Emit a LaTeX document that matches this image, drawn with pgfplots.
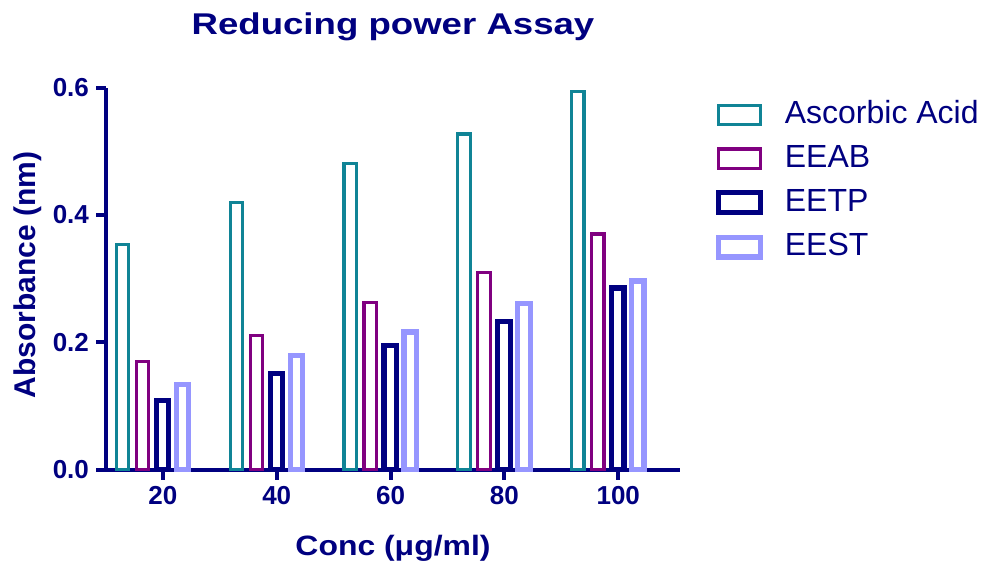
\documentclass[border=0pt]{standalone}
\usepackage{fontspec}
\setmainfont{Liberation Sans}
\usepackage{graphicx}
\usepackage{pgfplots}
\pgfplotsset{compat=1.18}
\definecolor{asccol}{RGB}{16,132,150}
\definecolor{eeabcol}{RGB}{128,0,128}
\definecolor{eetpcol}{RGB}{0,0,128}
\definecolor{eestcol}{RGB}{150,150,255}
\definecolor{navytext}{RGB}{0,0,128}

\begin{document}
\begin{tikzpicture}
\useasboundingbox (0,0) rectangle (491.5pt,282pt);
\begin{axis}[
    at={(53pt,47.25pt)}, anchor=south west,
    scale only axis, width=287pt, height=191pt,
    xmin=10, xmax=110.85, ymin=0, ymax=0.6,
    ybar, bar width=6.2pt, clip=false,
    axis x line*=bottom, axis y line*=left,
    axis line style={-, line width=2pt, navytext},
    tick align=outside, major tick length=5pt,
    major tick style={line width=2pt, navytext},
    xtick={20,40,60,80,100}, ytick={0,0.2,0.4,0.6},
    /pgf/number format/assume math mode=true,
    tick label style={font=\fontsize{13}{15}\selectfont\bfseries, text=navytext},
    y tick label style={/pgf/number format/fixed, /pgf/number format/fixed zerofill,
        /pgf/number format/precision=1},
    title={\scalebox{1.22}[1]{Reducing power Assay}},
    title style={at={(axis description cs:0.5,1.1076)}, anchor=base, yshift=0pt,
        font=\fontsize{15}{18}\selectfont\bfseries, text=navytext},
    xlabel={\scalebox{1.14}[1]{Conc (μg/ml)}},
    xlabel style={at={(axis description cs:0.5,-0.2238)}, anchor=base,
        font=\fontsize{14}{17}\selectfont\bfseries, text=navytext},
    ylabel={Absorbance (nm)},
    ylabel style={at={(axis description cs:-0.1235,0.509)}, anchor=base,
        font=\fontsize{15}{18}\selectfont\bfseries, text=navytext},
    legend image code/.code={\draw[#1] (0pt,-6.35pt) rectangle (21pt,3.45pt);},
    legend cell align=left,
    legend style={draw=none, fill=none, at={(axis description cs:1.0624,0.9666)},
        anchor=north west, inner sep=0pt, row sep=8.95pt,
        font=\fontsize{16}{19}\selectfont, text=navytext,
        nodes={inner sep=0pt, text height=11.5pt, text depth=0pt},
        /tikz/every odd column/.append style={column sep=10.7pt}},
]
% Ascorbic Acid
\addplot[draw=asccol, line width=1.6pt, fill=white, bar shift=-20.2pt]
    coordinates {(20,0.353) (40,0.419) (60,0.481) (80,0.527) (100,0.594)};
\addlegendentry{Ascorbic Acid}
% EEAB
\addplot[draw=eeabcol, line width=1.6pt, fill=white, bar shift=-10.2pt]
    coordinates {(20,0.170) (40,0.211) (60,0.262) (80,0.309) (100,0.370)};
\addlegendentry{EEAB}
% EETP
\addplot[draw=eetpcol, line width=2.6pt, fill=white, bar shift=-0.2pt]
    coordinates {(20,0.109) (40,0.151) (60,0.195) (80,0.233) (100,0.285)};
\addlegendentry{EETP}
% EEST
\addplot[draw=eestcol, line width=2.6pt, fill=white, bar shift=9.8pt]
    coordinates {(20,0.133) (40,0.179) (60,0.216) (80,0.261) (100,0.296)};
\addlegendentry{EEST}
\end{axis}
\end{tikzpicture}
\end{document}
